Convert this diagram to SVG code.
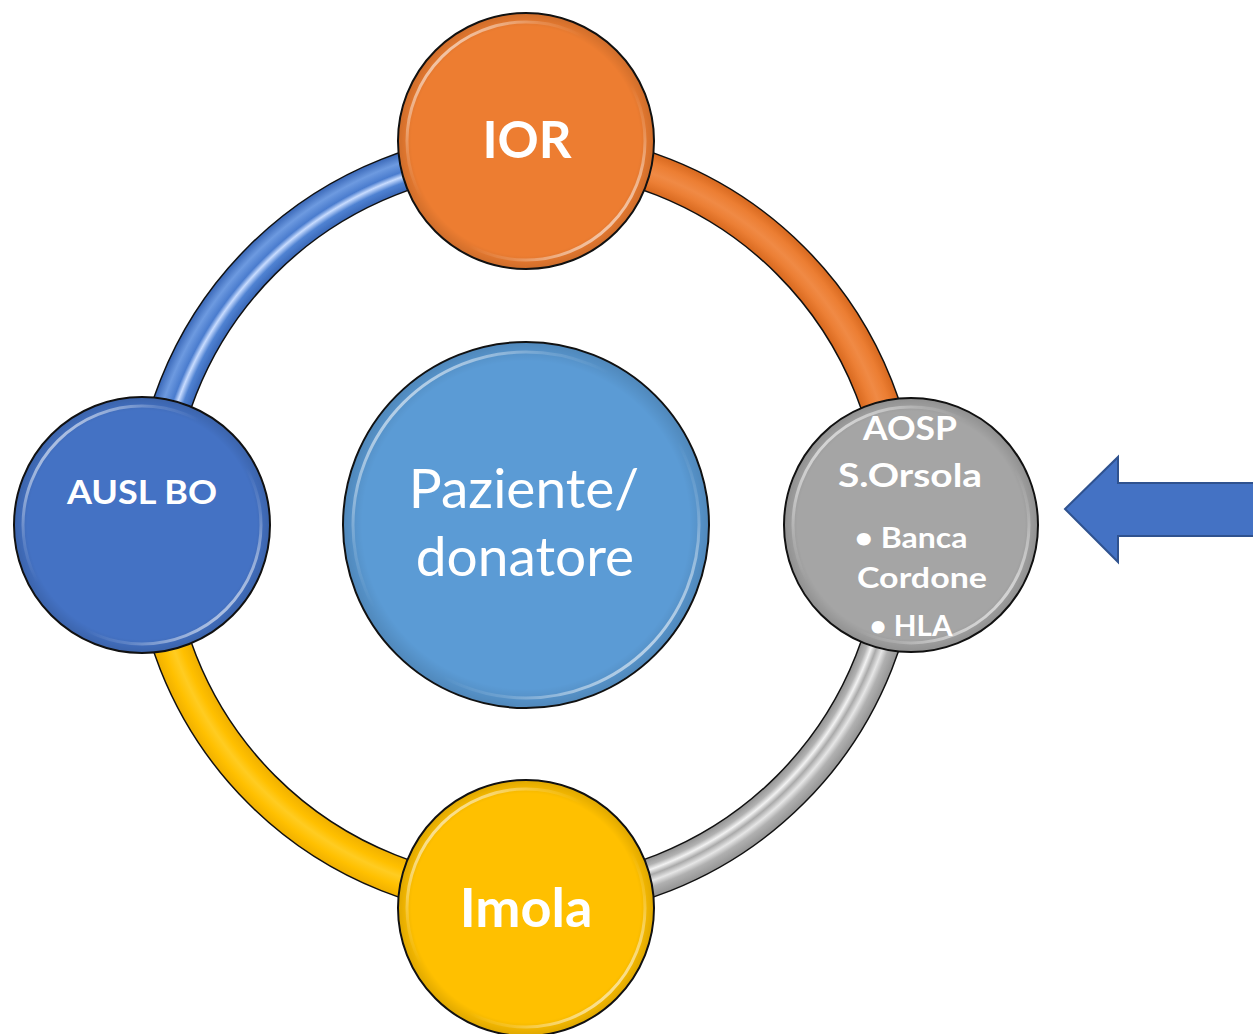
<svg xmlns="http://www.w3.org/2000/svg" width="1253" height="1034" viewBox="0 0 1253 1034">
<defs>
<radialGradient id="gBlue" gradientUnits="userSpaceOnUse" cx="526" cy="525" r="393">
<stop offset="0.903" stop-color="#3a68b8"/>
<stop offset="0.925" stop-color="#4f82d2"/>
<stop offset="0.94" stop-color="#c8dcff"/>
<stop offset="0.952" stop-color="#4a7cce"/>
<stop offset="0.975" stop-color="#6d9ae0"/>
<stop offset="1" stop-color="#3a68b8"/>
</radialGradient>
<radialGradient id="gOrange" gradientUnits="userSpaceOnUse" cx="526" cy="525" r="393">
<stop offset="0.903" stop-color="#d8691f"/>
<stop offset="0.93" stop-color="#ec7f35"/>
<stop offset="0.95" stop-color="#f08a45"/>
<stop offset="0.975" stop-color="#ec7e33"/>
<stop offset="1" stop-color="#d8691f"/>
</radialGradient>
<radialGradient id="gGray" gradientUnits="userSpaceOnUse" cx="526" cy="525" r="393">
<stop offset="0.903" stop-color="#939393"/>
<stop offset="0.92" stop-color="#b2b2b2"/>
<stop offset="0.932" stop-color="#f2f2f2"/>
<stop offset="0.945" stop-color="#aaaaaa"/>
<stop offset="0.96" stop-color="#e6e6e6"/>
<stop offset="0.975" stop-color="#b0b0b0"/>
<stop offset="1" stop-color="#949494"/>
</radialGradient>
<radialGradient id="gYellow" gradientUnits="userSpaceOnUse" cx="526" cy="525" r="393">
<stop offset="0.903" stop-color="#f0b000"/>
<stop offset="0.93" stop-color="#ffc000"/>
<stop offset="0.95" stop-color="#ffcc22"/>
<stop offset="0.975" stop-color="#ffc000"/>
<stop offset="1" stop-color="#f0b000"/>
</radialGradient>
<linearGradient id="gloss" x1="0" y1="0" x2="1" y2="1">
<stop offset="0" stop-color="#fff" stop-opacity="1"/>
<stop offset="0.28" stop-color="#fff" stop-opacity="0.15"/>
<stop offset="0.4" stop-color="#fff" stop-opacity="0"/>
<stop offset="0.6" stop-color="#fff" stop-opacity="0"/>
<stop offset="0.72" stop-color="#fff" stop-opacity="0.15"/>
<stop offset="1" stop-color="#fff" stop-opacity="1"/>
</linearGradient>
<radialGradient id="edge" cx="0.5" cy="0.5" r="0.5">
<stop offset="0.9" stop-color="#000" stop-opacity="0"/>
<stop offset="1" stop-color="#000" stop-opacity="0.12"/>
</radialGradient>
</defs>
<style>
.ringEdge{fill:none;stroke:#111;stroke-width:40}
.ring{fill:none;stroke-width:37}
.node{stroke:#111;stroke-width:2}
.gl{fill:none;stroke:url(#gloss);stroke-width:3}
.lbl{font-family:Lato,"Open Sans","Liberation Sans",sans-serif;fill:#fff;text-anchor:middle}
.b{font-weight:700}
</style>
<g id="connectors">
<path class="ringEdge" d="M 152 525 A 374 374 0 0 1 526 151"/>
<path class="ring" stroke="url(#gBlue)" d="M 152 525 A 374 374 0 0 1 526 151"/>
<path class="ringEdge" d="M 526 151 A 374 374 0 0 1 900 525"/>
<path class="ring" stroke="url(#gOrange)" d="M 526 151 A 374 374 0 0 1 900 525"/>
<path class="ringEdge" d="M 900 525 A 374 374 0 0 1 526 899"/>
<path class="ring" stroke="url(#gGray)" d="M 900 525 A 374 374 0 0 1 526 899"/>
<path class="ringEdge" d="M 526 899 A 374 374 0 0 1 152 525"/>
<path class="ring" stroke="url(#gYellow)" d="M 526 899 A 374 374 0 0 1 152 525"/>
</g>
<g id="node-center">
<circle class="node" cx="526" cy="525" r="183" fill="#5b9bd5"/>
<circle cx="526" cy="525" r="182" fill="url(#edge)"/>
<circle class="gl" cx="526" cy="525" r="173"/>
<text class="lbl" x="524" y="508" font-size="55">Paziente/</text>
<text class="lbl" x="525" y="576" font-size="55">donatore</text>
</g>
<g id="node-ior">
<circle class="node" cx="526" cy="141" r="128" fill="#ed7d31"/>
<circle cx="526" cy="141" r="127" fill="url(#edge)"/>
<circle class="gl" cx="526" cy="141" r="119"/>
<text class="lbl b" x="527" y="158" font-size="51">IOR</text>
</g>
<g id="node-ausl">
<circle class="node" cx="142" cy="525" r="128" fill="#4472c4"/>
<circle cx="142" cy="525" r="127" fill="url(#edge)"/>
<circle class="gl" cx="142" cy="525" r="119"/>
<text class="lbl b" x="142" y="504" font-size="33" textLength="150" lengthAdjust="spacingAndGlyphs">AUSL BO</text>
</g>
<g id="node-aosp">
<circle class="node" cx="911" cy="525" r="127" fill="#a5a5a5"/>
<circle cx="911" cy="525" r="126" fill="url(#edge)"/>
<circle class="gl" cx="911" cy="525" r="118"/>
<text class="lbl b" x="910" y="440" font-size="33" textLength="94" lengthAdjust="spacingAndGlyphs">AOSP</text>
<text class="lbl b" x="910" y="487" font-size="33" textLength="144" lengthAdjust="spacingAndGlyphs">S.Orsola</text>
<text class="lbl b" x="911" y="548" font-size="29" textLength="113" lengthAdjust="spacingAndGlyphs">• Banca</text>
<text class="lbl b" x="922" y="588" font-size="29" textLength="130" lengthAdjust="spacingAndGlyphs">Cordone</text>
<text class="lbl b" x="911" y="636" font-size="29" textLength="83" lengthAdjust="spacingAndGlyphs">• HLA</text>
</g>
<g id="node-imola">
<circle class="node" cx="526" cy="908" r="128" fill="#ffc000"/>
<circle cx="526" cy="908" r="127" fill="url(#edge)"/>
<circle class="gl" cx="526" cy="908" r="119"/>
<text class="lbl b" x="526" y="927" font-size="54">Imola</text>
</g>
<g id="arrow">
<polygon points="1065,509 1118,457 1118,483 1255,483 1255,536 1118,536 1118,562" fill="#4472c4" stroke="#2f528f" stroke-width="2"/>
</g>
</svg>
